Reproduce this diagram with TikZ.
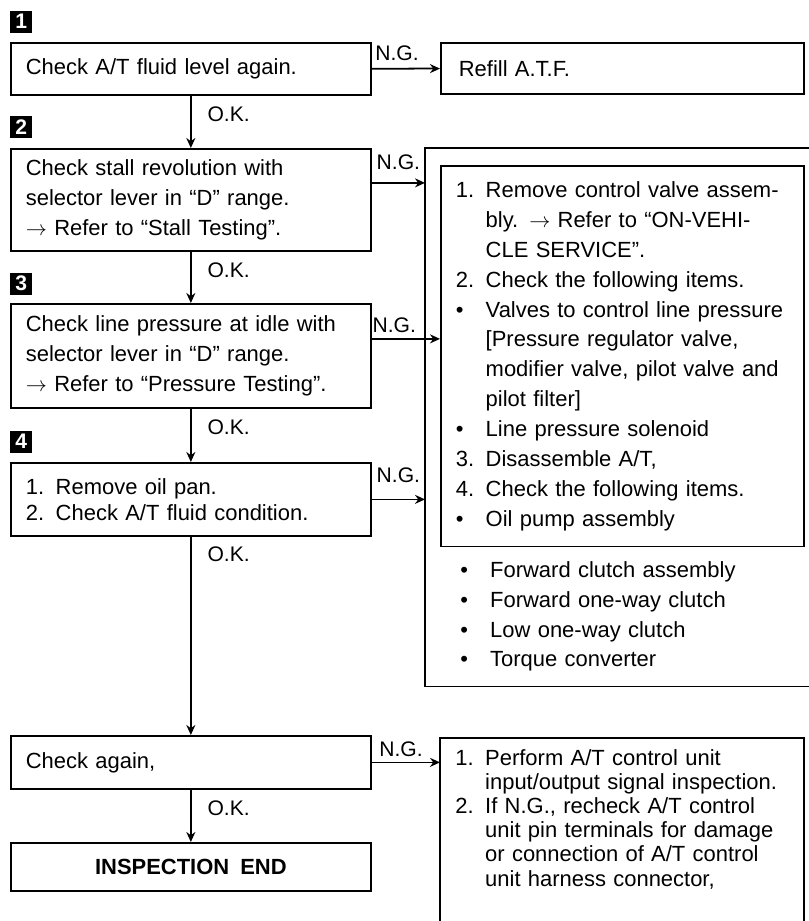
\documentclass[tikz,border=0pt]{standalone}
\usepackage{fontspec}
\setmainfont{Liberation Sans}
\usetikzlibrary{arrows.meta, positioning}
\newcommand{\itemnr}[1]{\makebox[17pt][l]{#1}}
\newcommand{\stepin}{\hspace*{17pt}}

\begin{document}
\begin{tikzpicture}[x=0.02cm, y=-0.02cm,
  font=\fontsize{12.5}{17}\selectfont,
  box/.style={draw, line width=1pt, anchor=north west, minimum width=7.2cm, text width=6.6cm, inner xsep=0.3cm, align=left},
  tag/.style={fill=black, text=white, font=\fontsize{12}{12}\selectfont\bfseries, minimum size=0.44cm, inner sep=0pt},
  arr/.style={-{Stealth[length=2mm, width=1.8mm]}, line width=1pt},
  lbl/.style={font=\fontsize{12}{12}\selectfont, inner sep=1pt}
]
\useasboundingbox (0,0) rectangle (809,921);

% checks on the left
\node[box, minimum height=1.04cm] (chk1) at (10,42) {Check A/T fluid level again.};
\node[box, minimum height=2.04cm] (chk2) at (10,148) {Check stall revolution with\\selector lever in ``D'' range.\\$\rightarrow$ Refer to ``Stall Testing''.};
\node[box, minimum height=2.08cm] (chk3) at (10,303) {Check line pressure at idle with\\selector lever in ``D'' range.\\$\rightarrow$ Refer to ``Pressure Testing''.};
\node[box, minimum height=1.46cm, font=\fontsize{12.5}{15}\selectfont] (chk4) at (10,462) {\itemnr{1.}Remove oil pan.\\\itemnr{2.}Check A/T fluid condition.};
\node[box, minimum height=1.06cm] (again) at (10,735) {Check again,};
\node[box, minimum height=0.96cm, align=center, font=\fontsize{12.5}{17}\selectfont\bfseries] (done) at (10,842) {INSPECTION\enspace END};

\node[tag, above right=0.18cm and 0cm of chk1.north west] (n1) {1};
\node[tag, above right=0.2cm and 0cm of chk2.north west] (n2) {2};
\node[tag, above right=0.16cm and 0cm of chk3.north west] (n3) {3};
\node[tag, above right=0.18cm and 0cm of chk4.north west] (n4) {4};

% repairs on the right
\node[box, minimum width=0pt, text width=6.54cm, inner xsep=0.36cm, minimum height=1.02cm] (refill) at (440,42) {Refill A.T.F.};
\node[anchor=north west, minimum width=7.68cm, minimum height=10.76cm] (repair) at (425,148) {};
\draw[line width=1pt] (repair.north east) -| (repair.south west) -- (repair.south east);
\node[box, minimum width=0pt, text width=6.66cm, inner ysep=9pt] (steps) at (440,165) {%
\itemnr{1.}Remove control valve assem-\\
\stepin bly. $\rightarrow$ Refer to ``ON-VEHI-\\
\stepin CLE SERVICE''.\\
\itemnr{2.}Check the following items.\\
\itemnr{\textbullet}Valves to control line pressure\\
\stepin [Pressure regulator valve,\\
\stepin modifier valve, pilot valve and\\
\stepin pilot filter]\\
\itemnr{\textbullet}Line pressure solenoid\\
\itemnr{3.}Disassemble A/T,\\
\itemnr{4.}Check the following items.\\
\itemnr{\textbullet}Oil pump assembly};
\node[anchor=north west, text width=6.46cm, inner xsep=0.4cm, inner ysep=0pt, align=left] (parts) at (440,561) {%
\itemnr{\textbullet}Forward clutch assembly\\
\itemnr{\textbullet}Forward one-way clutch\\
\itemnr{\textbullet}Low one-way clutch\\
\itemnr{\textbullet}Torque converter};
\node[anchor=north west, text width=6.66cm, inner xsep=0.3cm, inner ysep=6.5pt, align=left, font=\fontsize{12.5}{13.7}\selectfont] (unit) at (440,738) {%
\itemnr{1.}Perform A/T control unit\\
\stepin input/output signal inspection.\\
\itemnr{2.}If N.G., recheck A/T control\\
\stepin unit pin terminals for damage\\
\stepin or connection of A/T control\\
\stepin unit harness connector,};
\coordinate (cut) at (0,921);
\draw[line width=1pt] (unit.north west |- cut) -- (unit.north west) -- (unit.north east) -- (unit.north east |- cut);

% O.K. branches
\draw[arr] (chk1) -- node[lbl, pos=0, below right=5pt and 8pt] {O.K.} (chk2);
\draw[arr] (chk2) -- node[lbl, pos=0, below right=5pt and 8pt] {O.K.} (chk3);
\draw[arr] (chk3) -- node[lbl, pos=0, below right=5pt and 8pt] {O.K.} (chk4);
\draw[arr] (chk4) -- node[lbl, pos=0, below right=4pt and 8pt] {O.K.} (again);
\draw[arr] (again) -- node[lbl, pos=0, below right=5pt and 8pt] {O.K.} (done);

% N.G. branches
\draw[arr] (chk1) -- node[lbl, pos=0.37, above=3pt] {N.G.} (refill);
\draw[arr] ([yshift=0.34cm]chk2.east) -- ([yshift=0.34cm]chk2.east -| repair.west) node[lbl, midway, above=6pt] {N.G.};
\draw[arr] ([yshift=0.34cm]chk3.east) -- ([yshift=0.34cm]chk3.east -| steps.west) node[lbl, pos=0.33, above=2pt] {N.G.};
\draw[arr] (chk4.east) -- (chk4.east -| repair.west) node[lbl, midway, above=8pt] {N.G.};
\draw[arr] (again.east) -- (again.east -| unit.west) node[lbl, pos=0.43, above=2pt] {N.G.};
\end{tikzpicture}
\end{document}
